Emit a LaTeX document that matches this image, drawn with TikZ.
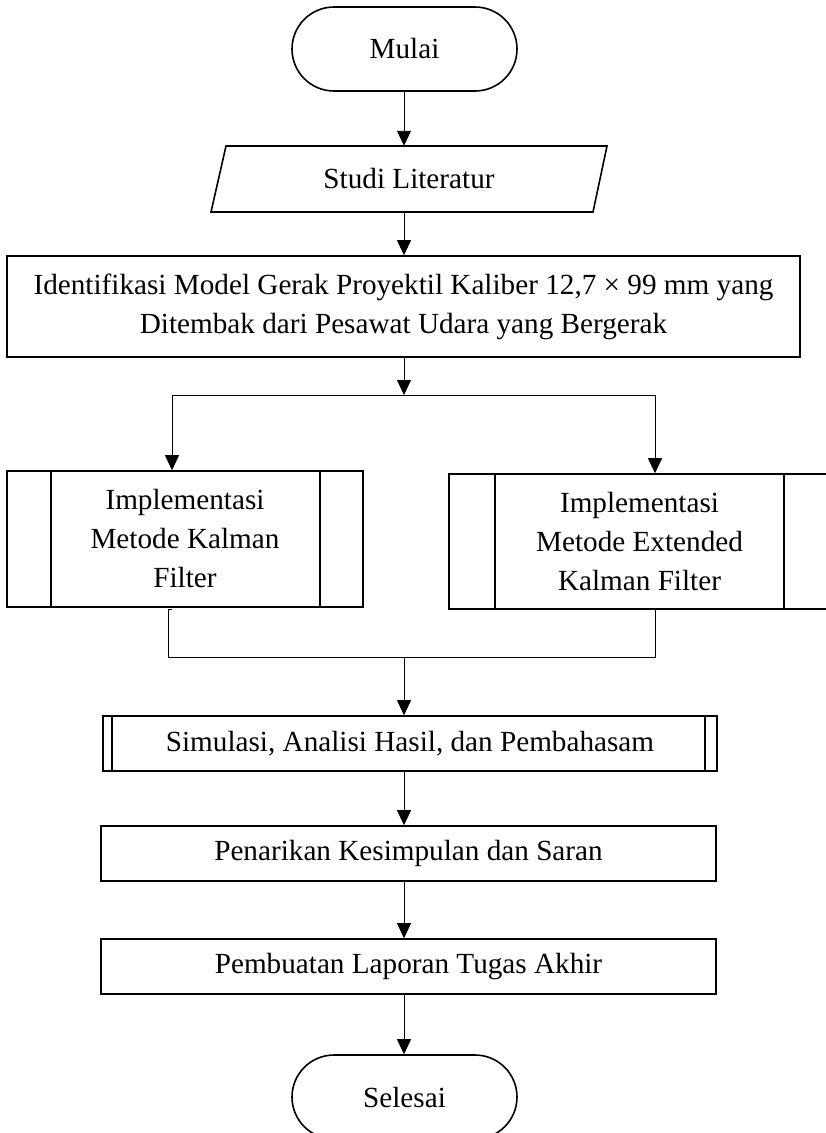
\documentclass[tikz,border=0pt]{standalone}
\usepackage{fontspec}
\setmainfont{Liberation Serif}
\usetikzlibrary{arrows.meta}
\begin{document}
\begin{tikzpicture}[x=1pt,y=-1pt,
  lbl/.style={font=\fontsize{29.2}{39}\selectfont, align=center, inner sep=0pt, text=black},
  shapeline/.style={line width=1.6pt},
  rect/.style={lbl, draw, shapeline},
  term/.style={lbl, draw, shapeline, rounded corners=42pt, minimum width=225pt, minimum height=84pt},
  link/.style={line width=0.9pt},
  arr/.style={link, -{Triangle[length=15pt,width=14pt]}}]
\useasboundingbox (0,0) rectangle (826,1133);
\coordinate (axis) at (404,0);
% start
\node[term] (mulai) at (404.5,49) {Mulai};
% input/output
\node[lbl, minimum width=370pt, minimum height=66pt] (studi) at (409,179) {Studi Literatur};
\draw[shapeline] (226,146) -- (607,146) -- (593,212) -- (211,212) -- cycle;
% identification
\node[rect, minimum width=793pt, minimum height=101pt] (ident) at (403.5,306.5)
  {Identifikasi Model Gerak Proyektil Kaliber 12,7 × 99 mm yang\\Ditembak dari Pesawat Udara yang Bergerak};
% predefined processes
\node[rect, minimum width=356pt, minimum height=136pt] (kf) at (185,539)
  {Implementasi\\Metode Kalman\\Filter};
\draw[shapeline] ([xshift=45pt]kf.north west) -- ([xshift=45pt]kf.south west);
\draw[shapeline] ([xshift=-44pt]kf.north east) -- ([xshift=-44pt]kf.south east);
\node[rect, minimum width=381pt, minimum height=135pt] (ekf) at (639.5,541.5)
  {Implementasi\\Metode Extended\\Kalman Filter};
\draw[shapeline] ([xshift=47pt]ekf.north west) -- ([xshift=47pt]ekf.south west);
\draw[shapeline] ([xshift=-47pt]ekf.north east) -- ([xshift=-47pt]ekf.south east);
% simulation
\node[rect, minimum width=614pt, minimum height=55pt] (sim) at (410,743.5)
  {Simulasi, Analisi Hasil, dan Pembahasam};
\draw[shapeline] ([xshift=10pt]sim.north west) -- ([xshift=10pt]sim.south west);
\draw[shapeline] ([xshift=-13pt]sim.north east) -- ([xshift=-13pt]sim.south east);
\node[rect, minimum width=615pt, minimum height=55pt] (pen) at (408.5,853.5)
  {Penarikan Kesimpulan dan Saran};
\node[rect, minimum width=615pt, minimum height=55pt] (pem) at (408.5,966.5)
  {Pembuatan Laporan Tugas Akhir};
\node[term] (selesai) at (404.5,1097) {Selesai};
% connectors
\draw[arr] (axis |- mulai.south) -- (axis |- studi.north);
\draw[arr] (axis |- studi.south) -- (axis |- ident.north);
\coordinate (split) at (404,395);
\coordinate (sl) at (172,395);
\coordinate (sr) at (655,395);
\draw[arr] (axis |- ident.south) -- (split);
\draw[link] (sl) -- (sr);
\draw[arr] (sl) -- (sl |- kf.north);
\draw[arr] (sr) -- (sr |- ekf.north);
\coordinate (ml) at (168,657);
\coordinate (mr) at (655,657);
\coordinate (merge) at (404,657);
\draw[link] (ml |- kf.south) ++(3.5,1.5) -- ++(-3.5,0) -- (ml) -- (mr) -- (mr |- ekf.south);
\draw[arr] (merge) -- (merge |- sim.north);
\draw[arr] (axis |- sim.south) -- (axis |- pen.north);
\draw[arr] (axis |- pen.south) -- (axis |- pem.north);
\draw[arr] (axis |- pem.south) -- (axis |- selesai.north);
\end{tikzpicture}
\end{document}
